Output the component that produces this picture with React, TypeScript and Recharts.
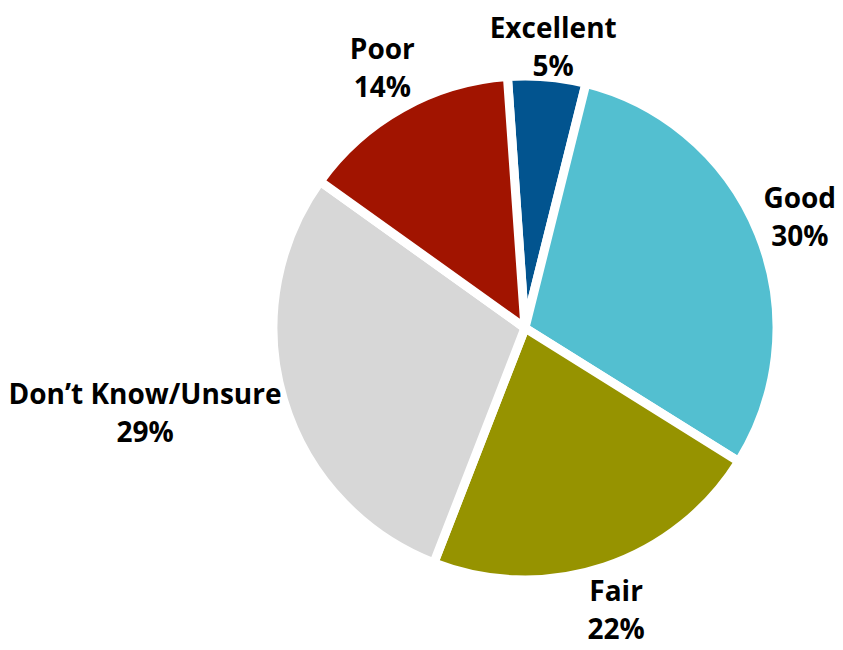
import React from "react";
import { PieChart, Pie, Cell } from "recharts";

const categories = ["Excellent", "Good", "Fair", "Don’t Know/Unsure", "Poor"];
const shares = [5, 30, 22, 29, 14];
const colors = ["#02548f", "#53bfd0", "#969300", "#d7d7d7", "#a11400"];

const data = categories.map((name, i) => ({ name, value: shares[i] }));

const FONT_FAMILY = "'Open Sans', sans-serif";
const FONT_SIZE = 28;
const RAD = Math.PI / 180;

let ctx: CanvasRenderingContext2D | null = null;
const measure = (s: string) => {
  if (!ctx) ctx = document.createElement("canvas").getContext("2d");
  if (!ctx) return s.length * 15;
  ctx.font = `bold ${FONT_SIZE}px 'Open Sans'`;
  return ctx.measureText(s).width;
};

// outside labels: the box edge nearest the pie sits just past the rim,
// pushed back inside the chart if it would run off the top
const renderLabel = (props: any) => {
  const { cx, cy, midAngle, outerRadius, name, value } = props;
  const cos = Math.cos(-midAngle * RAD);
  const sin = Math.sin(-midAngle * RAD);
  const r = outerRadius + 8;
  const pct = `${value}%`;
  const w = Math.max(measure(name), measure(pct));
  const h = 75;
  const bx = cx + r * cos + (cos * w) / 2;
  const by = Math.max(cy + r * sin + (sin * h) / 2, h / 2 + 1);
  return (
    <text
      x={bx}
      y={by}
      textAnchor="middle"
      fontFamily={FONT_FAMILY}
      fontWeight={700}
      fontSize={FONT_SIZE}
      fill="#000"
    >
      <tspan x={bx} y={by - 9}>
        {name}
      </tspan>
      <tspan x={bx} y={by + 29}>
        {pct}
      </tspan>
    </text>
  );
};

export default function App() {
  return (
    <PieChart width={843} height={650}>
      <Pie
        data={data}
        dataKey="value"
        nameKey="name"
        cx={512}
        cy={315}
        outerRadius={252}
        startAngle={94}
        endAngle={-266}
        stroke="#fff"
        strokeWidth={9}
        strokeLinejoin="round"
        label={renderLabel}
        labelLine={false}
        isAnimationActive={false}
      >
        {data.map((d, i) => (
          <Cell key={d.name} fill={colors[i]} stroke="#fff" strokeWidth={9} />
        ))}
      </Pie>
    </PieChart>
  );
}
